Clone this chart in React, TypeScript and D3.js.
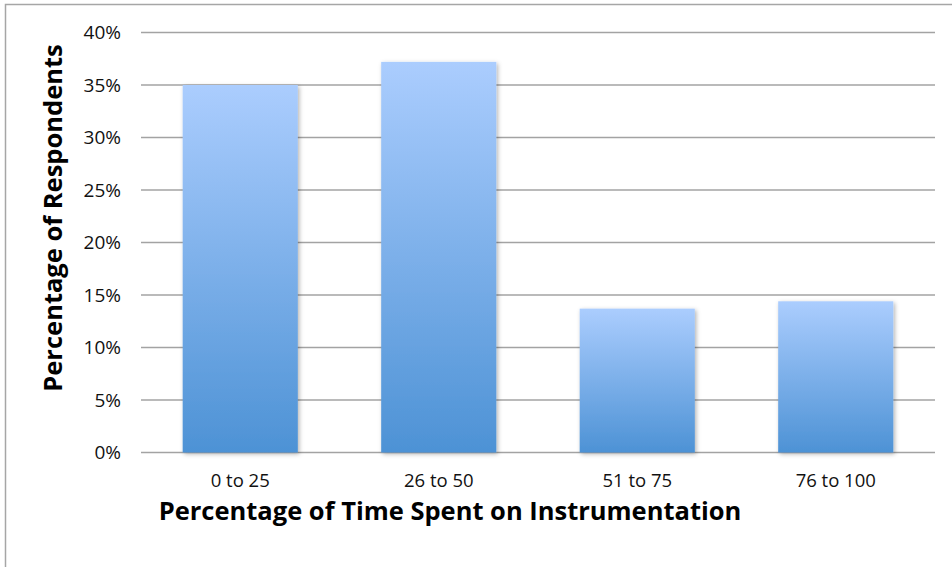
import React from "react";
import * as d3 from "d3";

const categories = ["0 to 25", "26 to 50", "51 to 75", "76 to 100"];
const values = [35.0, 37.2, 13.7, 14.4];
const yTicks = [0, 5, 10, 15, 20, 25, 30, 35, 40];
const xTitle = "Percentage of Time Spent on Instrumentation";
const yTitle = "Percentage of Respondents";

const W = 952;
const H = 567;
const margin = { left: 141, right: 17, top: 32.5, bottom: 114.5 };

export default function App() {
  const x = d3
    .scaleBand<string>()
    .domain(categories)
    .range([margin.left, W - margin.right])
    .paddingInner(0.42)
    .paddingOuter(0.21);
  const y = d3.scaleLinear().domain([0, 40]).range([H - margin.bottom, margin.top]);
  const font = "'Open Sans', sans-serif";
  return (
    <svg
      width={W}
      height={H}
      style={{ position: "absolute", left: 0, top: 0, background: "#fff" }}
    >
      <defs>
        <linearGradient id="barGrad" x1="0" y1="0" x2="0" y2="1">
          <stop offset="0%" stopColor="#abcdfe" />
          <stop offset="100%" stopColor="#4d92d5" />
        </linearGradient>
        <filter id="shadow" x="-20%" y="-20%" width="140%" height="140%">
          <feDropShadow dx="1.5" dy="1.5" stdDeviation="2" floodColor="#000" floodOpacity="0.3" />
        </filter>
      </defs>
      <rect x={5.5} y={4.5} width={W + 10} height={H + 10} fill="none" stroke="#a6a6a6" strokeWidth={1.5} />
      {yTicks.map((t) => (
        <g key={t}>
          <line
            x1={margin.left}
            x2={W - margin.right}
            y1={y(t)}
            y2={y(t)}
            stroke="#a3a3a3"
            strokeWidth={1.5}
          />
          <text
            x={121}
            y={y(t)}
            dy="0.36em"
            textAnchor="end"
            fontFamily={font}
            fontSize={19}
            fill="#111"
          >
            {t}%
          </text>
        </g>
      ))}
      {categories.map((c, i) => (
        <rect
          key={c}
          x={x(c)}
          y={y(values[i])}
          width={x.bandwidth()}
          height={y(0) - y(values[i])}
          fill="url(#barGrad)"
          filter="url(#shadow)"
        />
      ))}
      {categories.map((c) => (
        <text
          key={c}
          x={(x(c) as number) + x.bandwidth() / 2}
          y={487}
          textAnchor="middle"
          fontFamily={font}
          fontSize={18.5}
          fill="#111"
        >
          {c}
        </text>
      ))}
      <text
        x={450}
        y={520}
        textAnchor="middle"
        fontFamily={font}
        fontWeight="bold"
        fontSize={25.5}
        fill="#000"
      >
        {xTitle}
      </text>
      <text
        transform={`translate(62,218) rotate(-90)`}
        textAnchor="middle"
        fontFamily={font}
        fontWeight="bold"
        fontSize={25.5}
        fill="#000"
      >
        {yTitle}
      </text>
    </svg>
  );
}
